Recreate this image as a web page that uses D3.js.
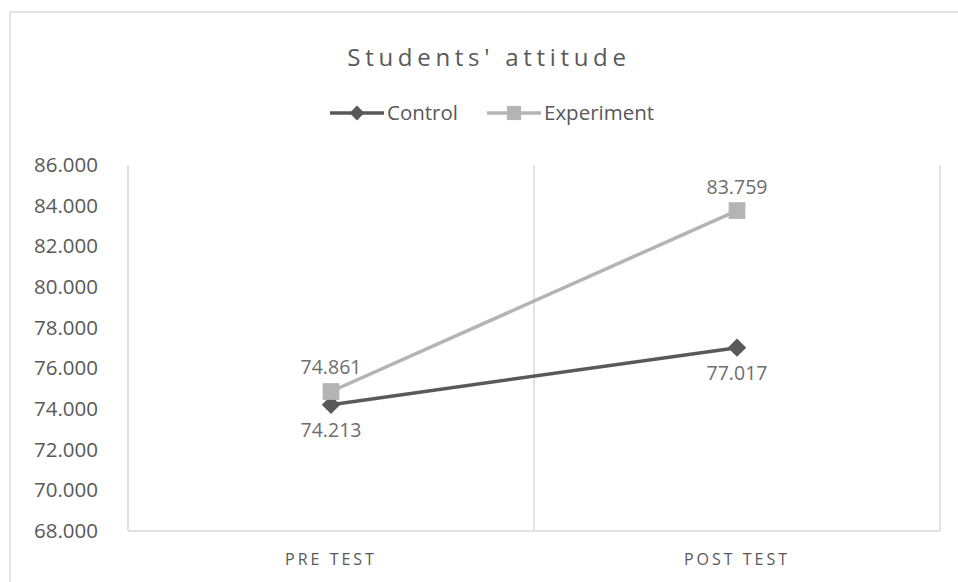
<!DOCTYPE html>
<html>
<head>
<meta charset="utf-8">
<script src="https://cdn.jsdelivr.net/npm/d3@7"></script>
<style>
  body { margin: 0; background: #fff; }
  text { font-family: "Open Sans", "Liberation Sans", sans-serif; }
</style>
</head>
<body>
<div id="chart"></div>
<script>
const width = 958;
const height = 582;
const margin = { top: 165, right: 18, bottom: 51, left: 128 };

const categories = ["PRE TEST", "POST TEST"];
const seriesNames = ["Control", "Experiment"];
const controlValues = [74.213, 77.017];
const experimentValues = [74.861, 83.759];
const yTicks = [68, 70, 72, 74, 76, 78, 80, 82, 84, 86];

const colors = { Control: "#595959", Experiment: "#b4b4b4" };
const textColor = "#595959";

// diamond = square turned 45deg, like the office marker
const diamond = {
  draw(ctx, size) {
    const r = Math.sqrt(size / 2);
    ctx.moveTo(0, -r);
    ctx.lineTo(r, 0);
    ctx.lineTo(0, r);
    ctx.lineTo(-r, 0);
    ctx.closePath();
  },
};

const series = [
  { name: "Control", values: controlValues, symbol: diamond, size: 170, legendSize: 110, labelPos: "below" },
  { name: "Experiment", values: experimentValues, symbol: d3.symbolSquare, size: 280, legendSize: 200, labelPos: "above" },
];

const svg = d3
  .select("#chart")
  .append("svg")
  .attr("width", width)
  .attr("height", height);

// chart frame
svg
  .append("rect")
  .attr("x", 10)
  .attr("y", 12)
  .attr("width", 960)
  .attr("height", 600)
  .attr("fill", "none")
  .attr("stroke", "#d9d9d9")
  .attr("stroke-width", 1.5);

const innerW = width - margin.left - margin.right;
const innerH = height - margin.top - margin.bottom;

const g = svg.append("g").attr("transform", `translate(${margin.left},${margin.top})`);

const x = d3.scaleBand().domain(categories).range([0, innerW]);
const y = d3.scaleLinear().domain([68, 86]).range([innerH, 0]);

// title
svg
  .append("text")
  .attr("x", 489)
  .attr("y", 66)
  .attr("text-anchor", "middle")
  .style("font-size", "24px")
  .style("letter-spacing", "4.7px")
  .style("fill", textColor)
  .text("Students' attitude");

// legend
const legend = svg.append("g").attr("transform", "translate(330,113)");
const legendX = [0, 157];
series.forEach((s, i) => {
  const item = legend.append("g").attr("transform", `translate(${legendX[i]},0)`);
  item
    .append("line")
    .attr("x1", 0)
    .attr("x2", 54)
    .attr("y1", 0)
    .attr("y2", 0)
    .attr("stroke", colors[s.name])
    .attr("stroke-width", 3.5);
  item
    .append("path")
    .attr("transform", "translate(27,0)")
    .attr("d", d3.symbol().type(s.symbol).size(s.legendSize)())
    .attr("fill", colors[s.name]);
  item
    .append("text")
    .attr("x", 57)
    .attr("y", 0)
    .attr("dy", "0.35em")
    .style("font-size", "20.5px")
    .style("fill", textColor)
    .text(s.name);
});

// y axis labels
const yAxis = g.append("g").call(d3.axisLeft(y).tickValues(yTicks).tickFormat(d3.format(".3f")).tickSize(0).tickPadding(30));
yAxis.select(".domain").remove();
yAxis.selectAll("text").style("font-size", "20.5px").style("fill", textColor).style("font-family", "'Open Sans', sans-serif");

// plot border lines: left, middle divider, right, bottom
const vlines = [0, x.bandwidth(), innerW];
g.selectAll(".vline")
  .data(vlines)
  .enter()
  .append("line")
  .attr("x1", (d) => d)
  .attr("x2", (d) => d)
  .attr("y1", 0)
  .attr("y2", innerH)
  .attr("stroke", "#d9d9d9")
  .attr("stroke-width", 1.5);

g.append("line")
  .attr("x1", 0)
  .attr("x2", innerW)
  .attr("y1", innerH)
  .attr("y2", innerH)
  .attr("stroke", "#d9d9d9")
  .attr("stroke-width", 1.5);

// x axis labels
g.selectAll(".xlabel")
  .data(categories)
  .enter()
  .append("text")
  .attr("x", (d) => x(d) + x.bandwidth() / 2)
  .attr("y", innerH + 34)
  .attr("text-anchor", "middle")
  .style("font-size", "16px")
  .style("letter-spacing", "3px")
  .style("fill", textColor)
  .text((d) => d);

// lines
const line = d3
  .line()
  .x((d, i) => x(categories[i]) + x.bandwidth() / 2)
  .y((d) => y(d));

series.forEach((s) => {
  g.append("path")
    .datum(s.values)
    .attr("fill", "none")
    .attr("stroke", colors[s.name])
    .attr("stroke-width", 3.5)
    .attr("d", line);
});

// markers and labels
series.forEach((s) => {
  s.values.forEach((v, i) => {
    const cx = x(categories[i]) + x.bandwidth() / 2;
    const cy = y(v);
    g.append("path")
      .attr("transform", `translate(${cx},${cy})`)
      .attr("d", d3.symbol().type(s.symbol).size(s.size)())
      .attr("fill", colors[s.name]);
    g.append("text")
      .attr("x", cx)
      .attr("y", s.labelPos === "above" ? cy - 17 : cy + 32)
      .attr("text-anchor", "middle")
      .style("font-size", "19.5px")
      .style("fill", "#6e6e6e")
      .text(d3.format(".3f")(v));
  });
});
</script>
</body>
</html>
